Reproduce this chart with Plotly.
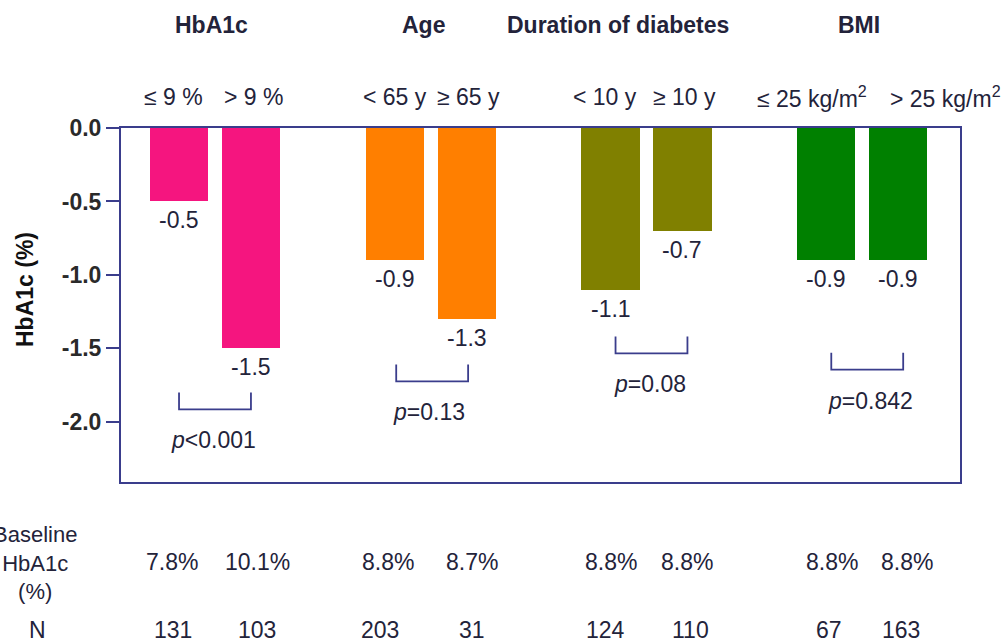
import plotly.graph_objects as go

# --- data -------------------------------------------------------------
groups = ["HbA1c", "Age", "Duration of diabetes", "BMI"]
subgroups = ["\u2264 9 %", "> 9 %",
             "< 65 y", "\u2265 65 y",
             "< 10 y", "\u2265 10 y",
             "\u2264 25 kg/m<sup>2</sup>", "> 25 kg/m<sup>2</sup>"]
change = [-0.5, -1.5, -0.9, -1.3, -1.1, -0.7, -0.9, -0.9]
baseline = ["7.8%", "10.1%", "8.8%", "8.7%", "8.8%", "8.8%", "8.8%", "8.8%"]
n_patients = ["131", "103", "203", "31", "124", "110", "67", "163"]
p_values = ["<i>p</i>&lt;0.001", "<i>p</i>=0.13", "<i>p</i>=0.08", "<i>p</i>=0.842"]
bracket_levels = [-1.80, -1.61, -1.42, -1.53]
colors = ["#F5157F", "#F5157F", "#FF7F00", "#FF7F00",
          "#808000", "#808000", "#008000", "#008000"]
y_ticks = [0.0, -0.5, -1.0, -1.5, -2.0]

# bar slots: two bars per group, one empty slot between groups
xpos = [g * 3 + k for g in range(len(groups)) for k in (0, 1)]

NAVY = "#3A3D8C"
INK = "#23233A"
FONT = "Arial"
FS = 23

# layout geometry (pixels)
W, H = 1008, 640
L, R, T, B = 121, 48, 128, 158
plot_h = H - T - B
plot_w = W - L - R


def py(p):
    """pixel row -> paper y"""
    return (H - B - p) / plot_h


def px(p):
    """pixel column -> paper x"""
    return (p - L) / plot_w


def label(**kw):
    base = dict(showarrow=False, xanchor="center", yanchor="middle")
    base.update(kw)
    return base


fig = go.Figure()
fig.add_trace(go.Bar(
    x=xpos, y=change, width=0.81,
    marker=dict(color=colors, line=dict(width=0)),
    hoverinfo="skip", showlegend=False,
))

ann = []
# value labels under each bar
for x, v in zip(xpos, change):
    ann.append(label(x=x, y=v, xref="x", yref="y", text=f"{v:.1f}",
                     yanchor="top", yshift=-4,
                     font=dict(size=FS, color=INK)))

# group headings
head_dx = [0.45, 0.4, 0.1, 0.45]
for g, name in enumerate(groups):
    ann.append(label(x=g * 3 + head_dx[g], y=py(25), xref="x", yref="paper",
                     text=f"<b>{name}</b>",
                     font=dict(size=FS, color=INK)))

# subgroup labels
sub_dx = [-0.08, 0.03, 0.0, 0.03, -0.07, 0.03, -0.2, 0.66]
for x, s, d in zip(xpos, subgroups, sub_dx):
    ann.append(label(x=x + d, y=py(97), xref="x", yref="paper", text=s,
                     font=dict(size=FS, color=INK)))

# significance brackets and p-values
shapes = []
br_dx = [0.0, 0.02, 0.07, 0.07]
p_dx = [0.48, 0.48, 0.55, 0.62]
tick_h = 0.115
for g, (lvl, ptxt) in enumerate(zip(bracket_levels, p_values)):
    x0 = g * 3 + br_dx[g]
    x1 = x0 + 1
    shapes.append(dict(type="path", xref="x", yref="y",
                       path=f"M {x0},{lvl} L {x0},{lvl - tick_h} L {x1},{lvl - tick_h} L {x1},{lvl}",
                       line=dict(color=NAVY, width=1.8)))
    ann.append(label(x=g * 3 + p_dx[g], y=lvl - tick_h, xref="x", yref="y",
                     text=ptxt, yanchor="top", yshift=-16,
                     font=dict(size=FS, color=INK)))

# y-axis title
ann.append(label(x=px(25), y=py(290), xref="paper", yref="paper",
                 text="<b>HbA1c (%)</b>", textangle=-90,
                 font=dict(size=FS, color="#111111")))

# table under the chart
ann.append(label(x=px(35), y=py(563), xref="paper", yref="paper",
                 text="Baseline<br>HbA1c<br>(%)", align="center",
                 font=dict(size=22, color=INK)))
ann.append(label(x=px(37), y=py(630), xref="paper", yref="paper",
                 text="N", font=dict(size=FS, color=INK)))
base_dx = [-0.1, 0.09, -0.1, 0.07, 0.0, 0.07, 0.08, 0.12]
n_dx = [-0.08, 0.09, -0.2, 0.08, -0.07, 0.11, 0.04, 0.04]
for x, b, n, d1, d2 in zip(xpos, baseline, n_patients, base_dx, n_dx):
    ann.append(label(x=x + d1, y=py(562), xref="x", yref="paper", text=b,
                     font=dict(size=FS, color=INK)))
    ann.append(label(x=x + d2, y=py(630), xref="x", yref="paper", text=n,
                     font=dict(size=FS, color=INK)))

fig.update_layout(
    width=W, height=H,
    margin=dict(l=L, r=R, t=T, b=B),
    paper_bgcolor="white", plot_bgcolor="white",
    font=dict(family=FONT, color=INK),
    annotations=ann, shapes=shapes,
    bargap=0,
)
fig.update_xaxes(range=[-0.807, 10.86], showgrid=False, zeroline=False,
                 showticklabels=False, ticks="",
                 showline=True, linecolor=NAVY, linewidth=2, mirror=True)
fig.update_yaxes(range=[-2.41, 0], showgrid=False, zeroline=False,
                 tickvals=y_ticks, ticktext=[f"<b>{v:.1f}</b>" for v in y_ticks],
                 ticks="outside", ticklen=13, tickwidth=2, tickcolor=NAVY,
                 tickfont=dict(size=FS, color="#2A2A2A", family=FONT),
                 showline=True, linecolor=NAVY, linewidth=2, mirror=True)

fig.write_html("out.html")
